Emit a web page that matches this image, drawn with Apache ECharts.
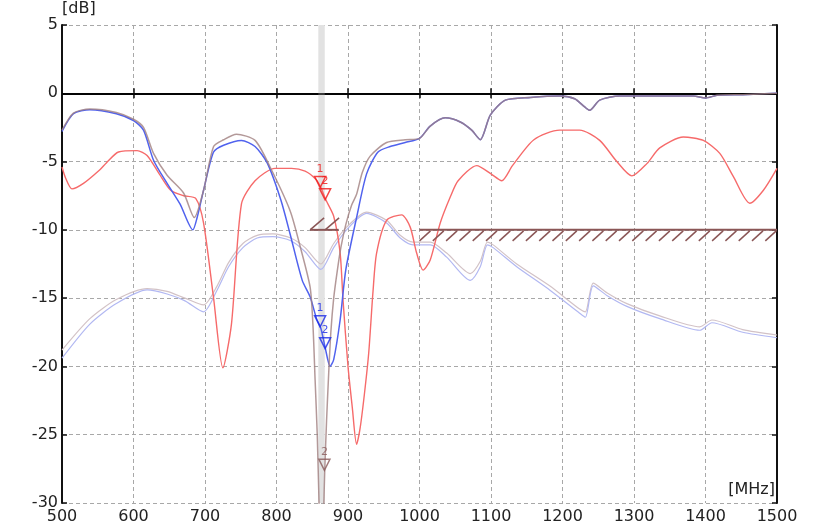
<!DOCTYPE html>
<html>
<head>
<meta charset="utf-8">
<script src="https://cdn.jsdelivr.net/npm/echarts@6.0.0/dist/echarts.min.js"></script>
<style>
html,body{margin:0;padding:0;background:#fff;}
#chart{width:813px;height:526px;}
</style>
</head>
<body>
<div id="chart"></div>
<script>
// ---- data ----
const xTicks = [500,600,700,800,900,1000,1100,1200,1300,1400,1500];
const yTicks = [5,0,-5,-10,-15,-20,-25,-30];

const blueF = [500,516,539,576,600,614,628,647,665,683,689,698,712,726,751,770,787,806,819,836,847,856,862,868,875,880,889,897,912,926,942,959,980,1000,1015,1036,1057,1073,1085,1099,1120,1155,1197,1217,1231,1238,1252,1280,1383,1400,1416,1452,1500];
const blueV = [-2.8,-1.5,-1.2,-1.5,-2.0,-2.7,-4.9,-6.6,-8.1,-10.0,-9.1,-7.1,-4.3,-3.8,-3.45,-3.9,-5.1,-7.8,-10.3,-13.7,-14.9,-16.5,-17.2,-18.6,-20.0,-19.5,-16.6,-12.9,-9.1,-5.9,-4.3,-3.9,-3.6,-3.3,-2.4,-1.8,-2.1,-2.7,-3.4,-1.6,-0.5,-0.3,-0.2,-0.4,-1.0,-1.25,-0.5,-0.2,-0.2,-0.35,-0.15,-0.1,0];

const brownF = [500,516,539,576,600,614,628,647,670,685,698,712,726,744,770,791,819,833,847,851,854,857,859.5,862,864.5,866,867.5,870,873,876,880,885,890,897,905,912,920,931,954,980,1000,1015,1036,1057,1073,1085,1099,1120,1155,1197,1217,1231,1238,1252,1280,1383,1400,1416,1452,1500];
const brownV = [-2.7,-1.45,-1.15,-1.4,-1.9,-2.5,-4.4,-6.0,-7.3,-9.1,-7.1,-3.9,-3.4,-3.0,-3.45,-5.4,-8.6,-11.2,-14.2,-17,-21,-25,-30,-34,-34,-30.5,-27.6,-24,-20.5,-17.5,-15,-13,-11.3,-9.6,-8.2,-7.4,-5.8,-4.6,-3.6,-3.4,-3.3,-2.4,-1.8,-2.1,-2.7,-3.4,-1.6,-0.5,-0.3,-0.2,-0.4,-1.0,-1.25,-0.5,-0.2,-0.2,-0.35,-0.15,-0.1,0];

const redF = [500,505,514,530,553,562,579,605,619,636,652,670,687,698,712,725,737,751,770,798,821,840,855,862,869,880,889,893,900,906,912,917,923,929,935,940,954,975,987,996,1005,1015,1029,1043,1054,1080,1100,1115,1130,1160,1196,1224,1252,1276,1297,1318,1336,1369,1397,1420,1439,1462,1481,1500];
const redV = [-5.4,-6.2,-7.0,-6.6,-5.6,-5.1,-4.3,-4.2,-4.55,-5.9,-7.1,-7.5,-7.7,-9.5,-15,-20.1,-16.9,-8.1,-6.4,-5.5,-5.5,-5.7,-6.3,-6.9,-7.8,-9.0,-11.7,-15.1,-20,-23,-25.7,-24.5,-22,-19,-14.5,-11.7,-9.3,-8.9,-9.8,-11.7,-12.95,-12.2,-9.5,-7.6,-6.4,-5.3,-5.9,-6.4,-5.3,-3.4,-2.7,-2.7,-3.45,-5.0,-6.05,-5.15,-4.0,-3.2,-3.45,-4.4,-6.1,-8.05,-7.1,-5.5];

const faintF = [500,539,576,619,647,672,698,717,733,753,773,795,820,840,862,880,898,926,954,973,991,1015,1038,1071,1085,1095,1103,1136,1182,1224,1232,1243,1262,1290,1336,1392,1409,1452,1500];
const faintBlueV = [-19.4,-16.9,-15.4,-14.4,-14.7,-15.2,-16.0,-14.4,-12.7,-11.3,-10.6,-10.5,-10.8,-11.6,-12.9,-11.3,-10.0,-8.8,-9.5,-10.6,-11.1,-11.1,-12.0,-13.7,-12.7,-11.1,-11.3,-12.7,-14.4,-16.1,-16.4,-14.1,-14.8,-15.6,-16.5,-17.35,-16.8,-17.5,-17.9];
const faintPinkV = [-18.8,-16.5,-15.1,-14.3,-14.5,-15.0,-15.5,-14.1,-12.4,-11.0,-10.4,-10.3,-10.6,-11.3,-12.5,-11.0,-9.8,-8.7,-9.3,-10.4,-10.9,-10.9,-11.7,-13.2,-12.3,-10.9,-11.1,-12.5,-14.1,-15.8,-16.0,-13.9,-14.6,-15.4,-16.3,-17.1,-16.6,-17.3,-17.7];

const markerNames = ['1','2'];
const markerF = [861,868];
const redMarkV = [-6.9,-7.8];
const blueMarkV = [-17.1,-18.7];
const brownMarkF = [867];
const brownMarkV = [-27.6];
const brownMarkNames = ['2'];

const markerBand = [858.5, 867.5];

const limitStart = [1000, 847];
const limitEnd = [1500, 887];
const limitLevel = [-10, -10];
const limitSide = [1, -1]; // 1: hatch below, -1: hatch above

// ---- build ----
const zip = (a, b) => a.map((v, i) => [v, b[i]]);
const FONT = 'DejaVu Sans';

function markerSeries(fs, vs, names, color) {
  return {
    type: 'scatter',
    z: 10,
    data: fs.map((f, i) => ({ value: [f, vs[i]], name: names[i] })),
    symbol: 'path://M0,0L10,0L5,10Z',
    symbolSize: [11, 11],
    symbolOffset: [0, -5.5],
    itemStyle: { color: 'rgba(255,255,255,0)', borderColor: color, borderWidth: 1.5 },
    label: { show: true, position: 'top', distance: 1, formatter: p => p.name,
             color: color, fontSize: 11, fontFamily: FONT },
    silent: true
  };
}

function curve(name, data, color, width, z, opacity) {
  return { type: 'line', name: name, data: data, showSymbol: false, z: z,
    smooth: 0.25,
    lineStyle: { color: color, width: width, opacity: opacity == null ? 1 : opacity } };
}

const chart = echarts.init(document.getElementById('chart'), null, { renderer: 'canvas' });
const axisCommon = {
  axisLine: { show: true, lineStyle: { color: '#111', width: 2 } },
  axisTick: { show: true, inside: true, length: 5, lineStyle: { color: '#111', width: 1.5 } }
};

chart.setOption({
  animation: false,
  backgroundColor: '#fff',
  grid: { left: 62, right: 36, top: 25, bottom: 23 },
  xAxis: [
    Object.assign({
      type: 'value', min: xTicks[0], max: xTicks[xTicks.length - 1], interval: 100,
      position: 'bottom',
      axisLabel: { color: '#222', fontSize: 16, fontFamily: FONT, margin: 6, formatter: v => String(v) },
      splitLine: { show: true, lineStyle: { color: '#a8a8a8', type: [4, 3], width: 1 } }
    }, axisCommon),
    Object.assign({
      type: 'value', min: xTicks[0], max: xTicks[xTicks.length - 1], interval: 100,
      position: 'top', axisLabel: { show: false }, splitLine: { show: false }
    }, axisCommon)
  ],
  yAxis: [
    Object.assign({
      type: 'value', min: yTicks[yTicks.length - 1], max: yTicks[0], interval: 5,
      position: 'left',
      name: '[dB]', nameLocation: 'end', nameGap: 3,
      nameTextStyle: { align: 'left', verticalAlign: 'bottom', color: '#222', fontSize: 16, fontFamily: FONT },
      axisLabel: { color: '#222', fontSize: 16, fontFamily: FONT, margin: 4, formatter: v => String(v) },
      splitLine: { show: true, lineStyle: { color: '#a8a8a8', type: [4, 3], width: 1 } }
    }, axisCommon),
    Object.assign({
      type: 'value', min: yTicks[yTicks.length - 1], max: yTicks[0], interval: 5,
      position: 'right', axisLabel: { show: false }, splitLine: { show: false }
    }, axisCommon)
  ],
  graphic: [{
    type: 'text', right: 38, bottom: 28,
    style: { text: '[MHz]', fill: '#222', font: '16px "DejaVu Sans"' }
  }],
  series: [
    {
      type: 'line', name: 'band', data: [], z: 1,
      markArea: { silent: true, itemStyle: { color: '#e2e2e2' },
        data: [[{ xAxis: markerBand[0] }, { xAxis: markerBand[1] }]] },
      markLine: { silent: true, symbol: 'none', label: { show: false },
        lineStyle: { color: '#000', width: 1.5, type: 'solid' },
        data: [{ yAxis: 0 }] }
    },
    curve('faintPink', zip(faintF, faintPinkV), '#d2c2c6', 1.2, 2),
    curve('faintBlue', zip(faintF, faintBlueV), '#b2b8f2', 1.2, 2),
    curve('red', zip(redF, redV), '#f66a6a', 1.4, 3),
    curve('blue', zip(blueF, blueV), '#5062ee', 1.5, 4),
    curve('brown', zip(brownF, brownV), '#a07f80', 1.5, 5, 0.8),
    {
      type: 'custom', name: 'limits', z: 6,
      data: limitStart.map((s, i) => [s, limitEnd[i], limitLevel[i], limitSide[i]]),
      encode: { x: [0, 1], y: 2 },
      renderItem: function (params, api) {
        const p1 = api.coord([api.value(0), api.value(2)]);
        const p2 = api.coord([api.value(1), api.value(2)]);
        const side = api.value(3);
        const col = '#8a5656';
        const children = [{
          type: 'line', shape: { x1: p1[0], y1: p1[1], x2: p2[0], y2: p2[1] },
          style: { stroke: col, lineWidth: 2 }
        }];
        if (side > 0) {
          for (let x = p1[0]; x + 1 < p2[0]; x += 13.3) {
            const x2 = Math.min(x + 11, p2[0]);
            children.push({ type: 'line',
              shape: { x1: x, y1: p1[1] + 11, x2: x2, y2: p1[1] + 11 - (x2 - x) * 10 / 11 },
              style: { stroke: col, lineWidth: 1.5 } });
          }
        } else {
          for (let x = p1[0]; x + 1 < p2[0]; x += 15) {
            children.push({ type: 'line',
              shape: { x1: x, y1: p1[1], x2: x + 14, y2: p1[1] - 12 },
              style: { stroke: col, lineWidth: 1.5 } });
          }
        }
        return { type: 'group', children: children };
      }
    },
    markerSeries(markerF, redMarkV, markerNames, '#f01818'),
    markerSeries(markerF, blueMarkV, markerNames, '#1a2ae8'),
    markerSeries(brownMarkF, brownMarkV, brownMarkNames, '#8a5a5a')
  ]
});
</script>
</body>
</html>
